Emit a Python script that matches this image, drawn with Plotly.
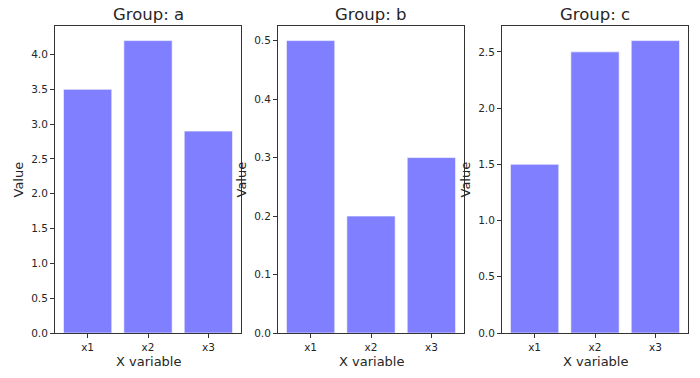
import plotly.graph_objects as go

categories = ["x1", "x2", "x3"]
groups = ["a", "b", "c"]
values_a = [3.5, 4.2, 2.9]
values_b = [0.5, 0.2, 0.3]
values_c = [1.5, 2.5, 2.6]
series = [values_a, values_b, values_c]
y_dticks = [0.5, 0.1, 0.5]

W, H = 700, 378
panels_px = [(55, 241), (278, 464), (502, 688)]
top_px, bot_px = 26, 333


def px(xw):
    return xw / W


def py(yw):
    return (H - yw) / H


ydom = [py(bot_px), py(top_px)]
font = "DejaVu Sans, Liberation Sans, sans-serif"

fig = go.Figure()
layout = dict(
    width=W, height=H, margin=dict(l=0, r=0, t=0, b=0, autoexpand=False),
    plot_bgcolor="white", paper_bgcolor="white",
    showlegend=False, bargap=0.2, hovermode=False,
    font=dict(family=font, color="#262626", size=11),
)
annotations = []
for i, (g, vals, dt, (l, r)) in enumerate(zip(groups, series, y_dticks, panels_px)):
    n = "" if i == 0 else str(i + 1)
    fig.add_trace(go.Bar(
        x=[0, 1, 2], y=vals, width=0.8,
        marker=dict(color="rgba(0,0,255,0.5)", line=dict(color="rgba(255,255,255,0.6)", width=1)),
        xaxis="x" + n, yaxis="y" + n,
    ))
    ymax = max(vals) * 1.05
    common = dict(
        showgrid=False, zeroline=False, showline=True, mirror=True, automargin=False,
        linecolor="#333", linewidth=1, ticks="outside", ticklen=4,
        tickcolor="#333", tickfont=dict(size=10.5, family=font, color="#262626"),
    )
    layout["xaxis" + n] = dict(
        domain=[px(l), px(r)], anchor="y" + n,
        range=[-0.54, 2.54], tickvals=[0, 1, 2], ticktext=categories, **common,
    )
    layout["yaxis" + n] = dict(
        domain=ydom, anchor="x" + n,
        range=[0, ymax], dtick=dt, tick0=0, tickformat=".1f", **common,
    )
    cx = px((l + r) / 2)
    annotations.append(dict(text="Group: " + g, x=cx, y=py(14.5), xref="paper", yref="paper",
                            showarrow=False, font=dict(size=16.5, family=font, color="#262626"),
                            xanchor="center", yanchor="middle"))
    annotations.append(dict(text="X variable", x=cx, y=py(361.5), xref="paper", yref="paper",
                            showarrow=False, font=dict(size=13, family=font, color="#262626"),
                            xanchor="center", yanchor="middle"))
    annotations.append(dict(text="Value", x=px(l - 37), y=(ydom[0] + ydom[1]) / 2,
                            xref="paper", yref="paper", textangle=-90,
                            showarrow=False, font=dict(size=13, family=font, color="#262626"),
                            xanchor="center", yanchor="middle"))
layout["annotations"] = annotations
fig.update_layout(**layout)
fig.write_html("out.html", config={"displayModeBar": False},
               post_script="document.body.style.margin='0';")
